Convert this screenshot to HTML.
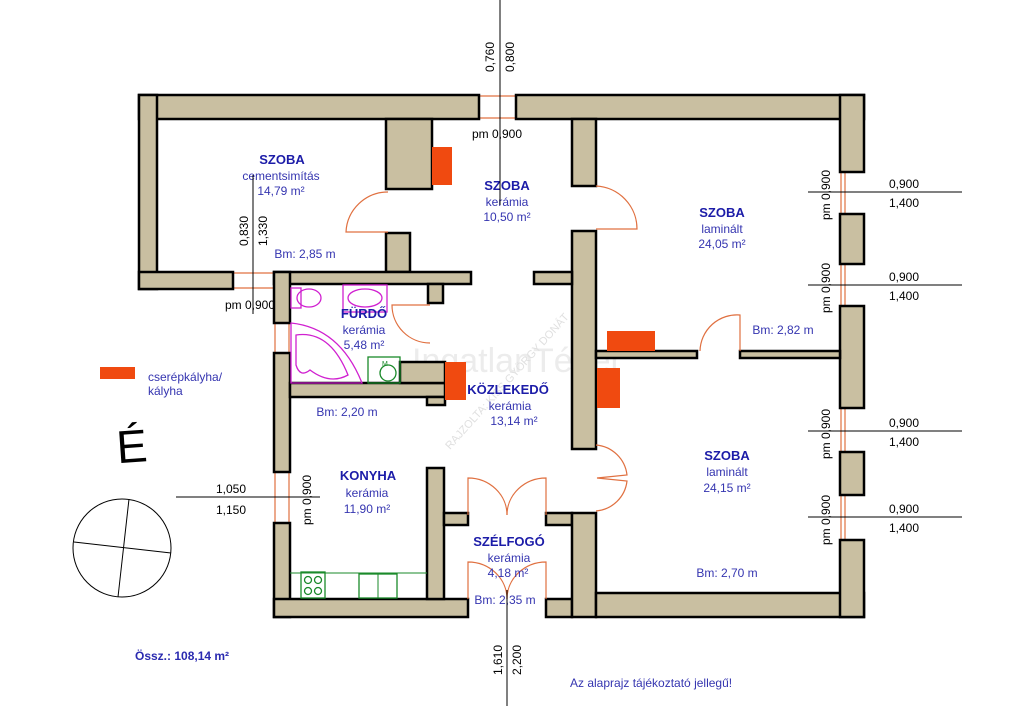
<!DOCTYPE html>
<html><head><meta charset="utf-8"><style>
html,body{margin:0;padding:0;background:#fff;}
svg{display:block;font-family:"Liberation Sans",sans-serif;}
.w{fill:#c9bfa1;stroke:#000;stroke-width:2.5}
.d{fill:none;stroke:#e07040;stroke-width:1.2}
.win{stroke:#e07040;stroke-width:1.2}
.t{fill:#1c1ca8;font-weight:bold;font-size:13px;text-anchor:middle}
.s{fill:#3535b0;font-size:12px;text-anchor:middle}
.k{fill:#000;font-size:12px}
.dim{stroke:#000;stroke-width:1}
.m{fill:none;stroke:#d020d0;stroke-width:1.3}
.g{fill:none;stroke:#1a8a2a;stroke-width:1.3}
</style></head><body>
<svg width="1024" height="706" viewBox="0 0 1024 706">
<!-- watermarks -->
<text x="412" y="372" font-size="34" fill="#ececec">IngatlanTéner</text>
<text x="450" y="450" font-size="11" fill="#e0e0e0" transform="rotate(-48 450 450)">RAJZOLTA: KISS GYÖRGY DONÁT</text>

<!-- windows -->
<g class="win">
<line x1="479" y1="96" x2="516" y2="96"/><line x1="479" y1="118" x2="516" y2="118"/>
<line x1="233" y1="273" x2="274" y2="273"/><line x1="233" y1="288" x2="274" y2="288"/>
<line x1="275" y1="323" x2="275" y2="353"/><line x1="289" y1="323" x2="289" y2="353"/>
<line x1="275" y1="472" x2="275" y2="523"/><line x1="289" y1="472" x2="289" y2="523"/>
<line x1="841" y1="172" x2="841" y2="214"/><line x1="845" y1="172" x2="845" y2="214"/>
<line x1="841" y1="264" x2="841" y2="306"/><line x1="845" y1="264" x2="845" y2="306"/>
<line x1="841" y1="408" x2="841" y2="452"/><line x1="845" y1="408" x2="845" y2="452"/>
<line x1="841" y1="495" x2="841" y2="540"/><line x1="845" y1="495" x2="845" y2="540"/>
</g>

<!-- walls -->
<g class="w">
<rect x="139" y="95" width="340" height="24"/><rect x="516" y="95" width="348" height="24"/>
<rect x="139" y="95" width="18" height="194"/>
<rect x="139" y="272" width="94" height="17"/>
<rect x="386" y="119" width="46" height="70"/>
<rect x="386" y="233" width="24" height="39"/>
<rect x="274" y="272" width="197" height="12"/>
<rect x="428" y="284" width="15" height="19"/>
<rect x="274" y="272" width="16" height="51"/>
<rect x="274" y="353" width="16" height="119"/>
<rect x="274" y="523" width="16" height="94"/>
<rect x="274" y="599" width="194" height="18"/>
<rect x="290" y="383" width="155" height="14"/>
<rect x="400" y="362" width="45" height="21"/>
<rect x="427" y="397" width="18" height="8"/>
<rect x="427" y="468" width="17" height="131"/>
<rect x="444" y="513" width="24" height="12"/>
<rect x="546" y="513" width="26" height="12"/>
<rect x="546" y="599" width="26" height="18"/>
<rect x="572" y="513" width="24" height="104"/>
<rect x="596" y="593" width="268" height="24"/>
<rect x="840" y="95" width="24" height="77"/>
<rect x="840" y="214" width="24" height="50"/>
<rect x="840" y="306" width="24" height="102"/>
<rect x="840" y="452" width="24" height="43"/>
<rect x="840" y="540" width="24" height="77"/>
<rect x="572" y="119" width="24" height="67"/>
<rect x="572" y="231" width="24" height="218"/>
<rect x="534" y="272" width="38" height="12"/>
<rect x="596" y="351" width="101" height="7"/>
<rect x="740" y="351" width="100" height="7"/>
</g>

<!-- stoves -->
<g fill="#f04a10">
<rect x="432" y="147" width="20" height="38"/>
<rect x="445" y="362" width="21" height="38"/>
<rect x="607" y="331" width="48" height="20"/>
<rect x="597" y="368" width="23" height="40"/>
<rect x="100" y="367" width="35" height="12"/>
</g>

<!-- doors -->
<g class="d">
<path d="M388,192 A42,42 0 0 0 346,232 L388,232"/>
<path d="M596,186 A43,43 0 0 1 637,229 L596,229"/>
<path d="M740,351 L740,315 A37,37 0 0 0 700,351"/>
<path d="M430,305 L392,305 A38,38 0 0 0 430,343"/>
<path d="M596,445 A34,34 0 0 1 627,475 L597,478 L627,481 A34,34 0 0 1 596,511"/>
<path d="M468,515 L468,478 A39,37 0 0 1 507,515"/>
<path d="M546,515 L546,478 A39,37 0 0 0 507,515"/>
<path d="M468,599 L468,562 A39,37 0 0 1 507,599"/>
<path d="M546,599 L546,562 A39,37 0 0 0 507,599"/>
</g>

<!-- bathroom fixtures -->
<rect x="291" y="288" width="10" height="20" class="m"/>
<ellipse cx="309" cy="298" rx="12" ry="9" class="m"/>
<rect x="343" y="285" width="44" height="27" class="m"/>
<ellipse cx="365" cy="298" rx="17" ry="9" class="m"/>
<path d="M291,323 Q340,328 362,383 L291,383 Z" class="m"/>
<path d="M296,335 Q330,330 348,375 Q330,385 310,370 Q300,378 296,365 Z" class="m"/>
<rect x="368" y="357" width="32" height="26" class="g"/>
<circle cx="388" cy="373" r="8" class="g"/>
<text x="382" y="366" font-size="7" fill="#1a8a2a">M</text>
<!-- kitchen -->
<line x1="290" y1="573" x2="427" y2="573" stroke="#1a8a2a" stroke-width="1"/>
<rect x="301" y="572" width="24" height="26" class="g"/>
<circle cx="308" cy="580" r="3.5" class="g"/><circle cx="318" cy="580" r="3.5" class="g"/>
<circle cx="308" cy="591" r="3.5" class="g"/><circle cx="318" cy="591" r="3.5" class="g"/>
<rect x="359" y="574" width="38" height="24" class="g"/>
<line x1="378" y1="574" x2="378" y2="598" stroke="#1a8a2a"/>

<!-- room labels -->
<text x="282" y="164" class="t">SZOBA</text>
<text x="281" y="180" class="s">cementsimítás</text>
<text x="281" y="195" class="s">14,79 m²</text>
<text x="305" y="258" class="s" font-size="11">Bm: 2,85 m</text>
<text x="507" y="190" class="t">SZOBA</text>
<text x="507" y="206" class="s">kerámia</text>
<text x="507" y="221" class="s">10,50 m²</text>
<text x="722" y="217" class="t">SZOBA</text>
<text x="722" y="233" class="s">laminált</text>
<text x="722" y="248" class="s">24,05 m²</text>
<text x="783" y="334" class="s" font-size="11">Bm: 2,82 m</text>
<text x="364" y="318" class="t">FÜRDŐ</text>
<text x="364" y="334" class="s">kerámia</text>
<text x="364" y="349" class="s">5,48 m²</text>
<text x="508" y="394" class="t">KÖZLEKEDŐ</text>
<text x="510" y="410" class="s">kerámia</text>
<text x="514" y="425" class="s">13,14 m²</text>
<text x="347" y="416" class="s" font-size="11">Bm: 2,20 m</text>
<text x="727" y="460" class="t">SZOBA</text>
<text x="727" y="476" class="s">laminált</text>
<text x="727" y="492" class="s">24,15 m²</text>
<text x="727" y="577" class="s" font-size="11">Bm: 2,70 m</text>
<text x="368" y="480" class="t">KONYHA</text>
<text x="367" y="497" class="s">kerámia</text>
<text x="367" y="513" class="s">11,90 m²</text>
<text x="509" y="546" class="t">SZÉLFOGÓ</text>
<text x="509" y="562" class="s">kerámia</text>
<text x="508" y="577" class="s">4,18 m²</text>
<text x="505" y="604" class="s" font-size="11">Bm: 2,35 m</text>

<!-- dimension lines -->
<line x1="500" y1="0" x2="500" y2="205" class="dim"/>
<text x="0" y="0" class="k" transform="translate(494,72) rotate(-90)">0,760</text>
<text x="0" y="0" class="k" transform="translate(514,72) rotate(-90)">0,800</text>
<text x="472" y="138" class="k">pm 0,900</text>
<line x1="253" y1="175" x2="253" y2="314" class="dim"/>
<text x="0" y="0" class="k" transform="translate(248,246) rotate(-90)">0,830</text>
<text x="0" y="0" class="k" transform="translate(267,246) rotate(-90)">1,330</text>
<text x="225" y="309" class="k">pm 0,900</text>
<line x1="176" y1="497" x2="320" y2="497" class="dim"/>
<text x="216" y="493" class="k">1,050</text>
<text x="216" y="514" class="k">1,150</text>
<text x="0" y="0" class="k" transform="translate(311,525) rotate(-90)">pm 0,900</text>
<line x1="507" y1="590" x2="507" y2="706" class="dim"/>
<text x="0" y="0" class="k" transform="translate(502,675) rotate(-90)">1,610</text>
<text x="0" y="0" class="k" transform="translate(521,675) rotate(-90)">2,200</text>
<g>
<line x1="808" y1="192" x2="962" y2="192" class="dim"/>
<text x="889" y="188" class="k">0,900</text><text x="889" y="207" class="k">1,400</text>
<text x="0" y="0" class="k" transform="translate(830,220) rotate(-90)">pm 0,900</text>
<line x1="808" y1="285" x2="962" y2="285" class="dim"/>
<text x="889" y="281" class="k">0,900</text><text x="889" y="300" class="k">1,400</text>
<text x="0" y="0" class="k" transform="translate(830,313) rotate(-90)">pm 0,900</text>
<line x1="808" y1="431" x2="962" y2="431" class="dim"/>
<text x="889" y="427" class="k">0,900</text><text x="889" y="446" class="k">1,400</text>
<text x="0" y="0" class="k" transform="translate(830,459) rotate(-90)">pm 0,900</text>
<line x1="808" y1="517" x2="962" y2="517" class="dim"/>
<text x="889" y="513" class="k">0,900</text><text x="889" y="532" class="k">1,400</text>
<text x="0" y="0" class="k" transform="translate(830,545) rotate(-90)">pm 0,900</text>
</g>

<!-- legend / compass -->
<text x="148" y="381" fill="#3535b0" font-size="12">cserépkályha/</text>
<text x="148" y="395" fill="#3535b0" font-size="12">kályha</text>
<text x="116" y="462" font-size="46" fill="#000" transform="rotate(-4 135 440)">É</text>
<circle cx="122" cy="548" r="49" fill="none" stroke="#000" stroke-width="1"/>
<line x1="129" y1="499" x2="118" y2="597" stroke="#000" stroke-width="1"/>
<line x1="74" y1="542" x2="171" y2="553" stroke="#000" stroke-width="1"/>
<text x="135" y="660" fill="#2a2ab0" font-weight="bold" font-size="12">Össz.: 108,14 m²</text>
<text x="570" y="687" fill="#3535b0" font-size="12">Az alaprajz tájékoztató jellegű!</text>
</svg>
</body></html>
